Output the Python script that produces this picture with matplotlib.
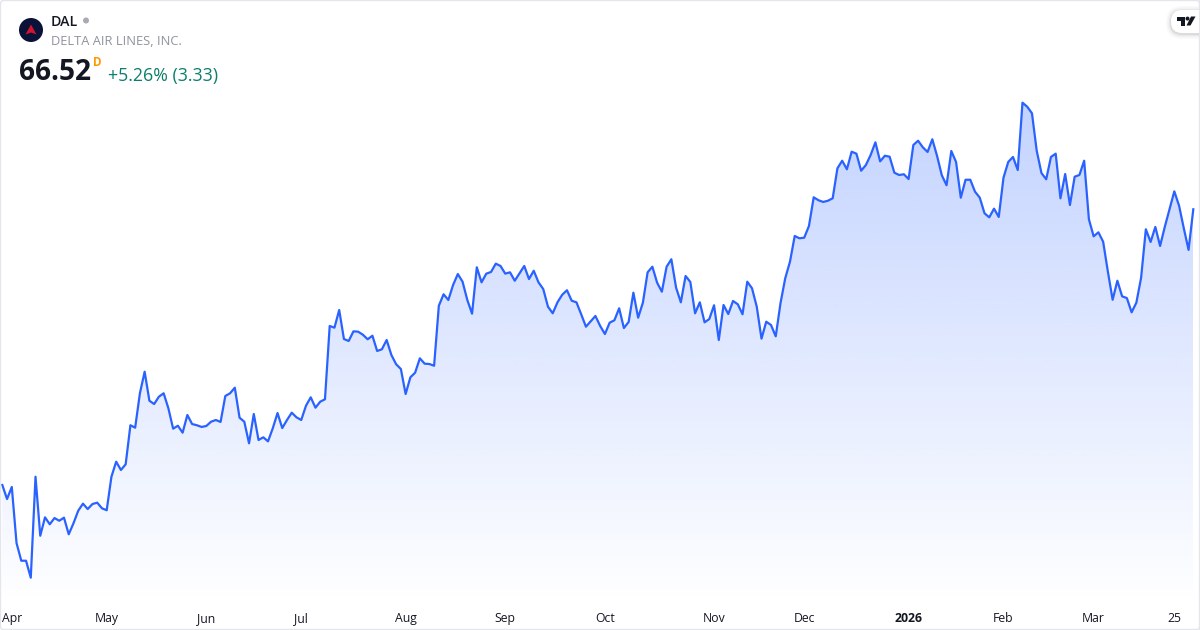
import numpy as np
import matplotlib
matplotlib.use("Agg")
import matplotlib.pyplot as plt
from matplotlib.patches import Circle, Polygon, FancyBboxPatch, Rectangle

ticker = "DAL"
company = "DELTA AIR LINES, INC."
last_price = "66.52"
change_text = "+5.26% (3.33)"

close = [
    43.91, 42.76, 43.75, 39.15, 37.70, 37.70, 36.31, 44.59, 39.75, 41.26,
    40.69, 41.20, 40.98, 41.23, 39.87, 40.77, 41.80, 42.38, 41.94, 42.35,
    42.46, 42.00, 41.84, 44.59, 45.82, 45.14, 45.61, 48.81, 48.61, 51.43,
    53.20, 50.82, 50.55, 51.15, 51.43, 50.20, 48.53, 48.77, 48.20, 49.65,
    48.91, 48.81, 48.67, 48.75, 49.10, 49.24, 49.08, 51.21, 51.43, 51.89,
    49.43, 49.10, 47.33, 49.73, 47.60, 47.82, 47.49, 48.56, 49.81, 48.58,
    49.24, 49.84, 49.46, 49.24, 50.41, 51.10, 50.25, 50.74, 50.94, 56.95,
    56.81, 58.26, 55.88, 55.72, 56.51, 56.48, 56.23, 55.86, 56.15, 54.90,
    55.04, 55.80, 54.57, 53.81, 53.42, 51.37, 52.74, 53.12, 54.30, 53.86,
    53.83, 53.69, 58.61, 59.55, 59.08, 60.31, 61.21, 60.58, 59.08, 57.96,
    61.76, 60.53, 61.24, 61.38, 62.06, 61.87, 61.24, 61.35, 60.66, 61.27,
    61.87, 60.80, 61.48, 60.53, 59.98, 58.53, 57.99, 58.89, 59.51, 59.88,
    59.02, 58.89, 57.91, 56.89, 57.33, 57.77, 56.95, 56.29, 57.22, 57.42,
    58.40, 56.78, 57.28, 59.68, 57.63, 58.86, 61.35, 61.81, 60.50, 59.76,
    61.81, 62.42, 60.09, 58.89, 61.05, 60.56, 57.99, 58.89, 57.25, 57.52,
    58.65, 55.80, 58.67, 57.93, 59.00, 58.73, 57.91, 60.58, 60.04, 58.53,
    55.91, 57.30, 57.03, 56.10, 58.81, 60.86, 62.22, 64.33, 64.14, 64.19,
    65.15, 67.50, 67.26, 67.12, 67.22, 67.42, 69.88, 70.50, 69.80, 71.24,
    71.08, 69.68, 70.15, 70.97, 72.01, 70.45, 70.91, 70.83, 69.52, 69.33,
    69.39, 69.00, 71.79, 72.14, 71.60, 71.22, 72.26, 70.89, 69.31, 68.49,
    71.30, 70.40, 67.47, 68.94, 68.94, 67.96, 67.47, 66.19, 65.86, 66.57,
    65.89, 69.11, 70.40, 70.81, 69.74, 75.26, 74.93, 74.39, 71.32, 69.49,
    68.98, 70.81, 71.08, 67.42, 69.41, 66.87, 69.19, 69.33, 70.50, 65.70,
    64.30, 64.63, 63.86, 61.40, 59.10, 60.66, 59.38, 59.24, 58.07, 58.86,
    60.91, 64.88, 63.84, 65.07, 63.51, 65.09, 66.54, 67.99, 66.81, 64.96,
    63.19, 66.52,
]
tick_positions = [2, 22, 43, 63, 85, 106, 127, 150, 169, 191, 211, 230, 247]
tick_labels = ["Apr", "May", "Jun", "Jul", "Aug", "Sep", "Oct", "Nov", "Dec",
               "2026", "Feb", "Mar", "25"]

W, H = 1200, 630
FONT = "Open Sans"
LINE = "#2962FF"
INK = "#131722"

fig = plt.figure(figsize=(12, 6.3), dpi=100, facecolor="white")

bottom_px = 605
ax = fig.add_axes([0, 1 - bottom_px / H, 1, bottom_px / H])
x = np.arange(len(close))
step = (1193.3 - 2.3) / (len(close) - 1)
ax.set_xlim(-2.3 / step, (W - 2.3) / step)
ax.set_ylim(83.68 - 0.082 * bottom_px, 83.68)
ax.set_facecolor("none")
for s in ax.spines.values():
    s.set_visible(False)
ax.yaxis.set_visible(False)

y0, y1 = ax.get_ylim()
top_val = max(close)
grad = np.zeros((256, 1, 4))
grad[..., 0] = 41 / 255
grad[..., 1] = 98 / 255
grad[..., 2] = 1.0
grad[:, 0, 3] = np.linspace(0.28, 0.0, 256)
poly = ax.fill_between(x, close, y0, color="none", lw=0)
im = ax.imshow(grad, aspect="auto", origin="upper", zorder=1,
               extent=[x[0], x[-1], y0, top_val], interpolation="bilinear")
ax.set_xlim(-2.3 / step, (W - 2.3) / step)
ax.set_ylim(y0, y1)
path = poly.get_paths()[0]
im.set_clip_path(path, transform=ax.transData)
ax.plot(x, close, color=LINE, lw=1.6, zorder=2, solid_joinstyle="round")

ax.set_xticks(tick_positions)
ax.set_xticklabels(tick_labels, fontfamily=FONT, fontsize=8.8, color=INK)
ax.tick_params(axis="x", length=0, pad=4.8)
for lab in ax.get_xticklabels():
    if lab.get_text() == "2026":
        lab.set_fontweight("bold")

ov = fig.add_axes([0, 0, 1, 1], facecolor="none")
ov.set_xlim(0, W)
ov.set_ylim(H, 0)
ov.axis("off")

ov.add_patch(FancyBboxPatch((0.5, 0.5), W - 1, H - 1,
                            boxstyle="round,pad=0,rounding_size=3",
                            fc="none", ec="#E4E6EB", lw=1.0))

ov.add_patch(Circle((31, 30), 12, fc="#0B1238", ec="none"))
ov.add_patch(Polygon([(31, 24.5), (36.5, 34.5), (31, 32.5), (25.5, 34.5)],
                     closed=True, fc="#D2152E", ec="none"))

ov.text(51, 21.5, ticker, fontfamily=FONT, fontsize=10.2, fontweight="semibold",
        color=INK, va="center", ha="left")
ov.add_patch(Circle((86, 20.5), 3, fc="#A8ABB3", ec="none"))
ov.text(51, 41.5, company, fontfamily=FONT, fontsize=9.3, color="#8F939C",
        va="center", ha="left")
ov.text(19, 73, last_price, fontfamily=FONT, fontsize=20.2, fontweight="bold",
        color=INK, va="center", ha="left")
ov.text(93, 62.5, "D", fontfamily=FONT, fontsize=8.4, fontweight="bold",
        color="#FF9800", va="center", ha="left")
ov.text(108, 76.2, change_text, fontfamily=FONT, fontsize=12.8,
        color="#0B7F6B", va="center", ha="left")

for grow, a in [(5, 0.02), (3.5, 0.03), (2, 0.04), (1, 0.05)]:
    ov.add_patch(FancyBboxPatch((1171 - grow, 10 - grow + 1), 40 + grow, 23 + 2 * grow,
                                boxstyle="round,pad=0,rounding_size=%g" % (11 + grow),
                                fc="black", ec="none", alpha=a))
ov.add_patch(FancyBboxPatch((1171, 10), 40, 23, boxstyle="round,pad=0,rounding_size=11",
                            fc="white", ec="none"))
ov.add_patch(Rectangle((W - 1, 0), 1, H, fc="#E4E6EB", ec="none"))
ov.add_patch(Polygon([(1177, 16.5), (1185, 16.5), (1185, 25.5), (1181, 25.5), (1181, 20.5), (1177, 20.5)],
                     closed=True, fc=INK, ec="none"))
ov.add_patch(Circle((1187.5, 18.6), 2.0, fc=INK, ec="none"))
ov.add_patch(Polygon([(1191, 16.5), (1195.5, 16.5), (1190.5, 25.5), (1186.5, 25.5)],
                     closed=True, fc=INK, ec="none"))

fig.savefig("out.png", dpi=100, facecolor="white")
